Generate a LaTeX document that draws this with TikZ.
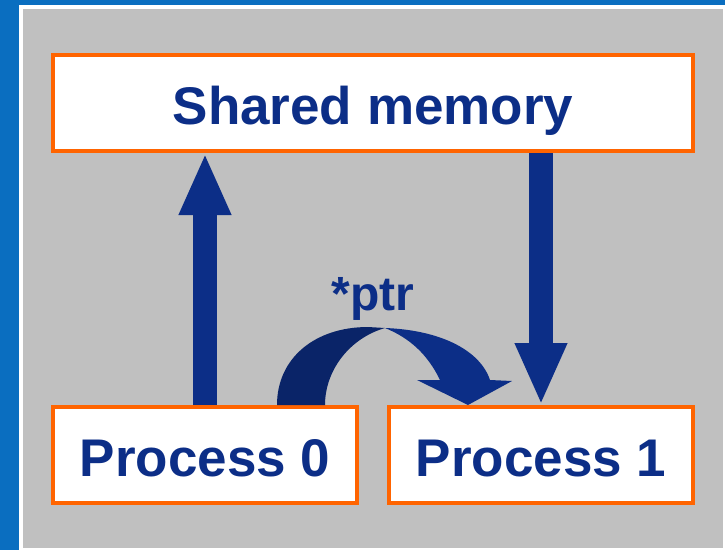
\documentclass[tikz,border=0pt]{standalone}
\usepackage{fontspec}
\setmainfont{Liberation Sans}
\usetikzlibrary{arrows.meta}
\definecolor{slideblue}{RGB}{10,110,192}
\definecolor{panelgrey}{RGB}{192,192,192}
\definecolor{boxorange}{RGB}{255,100,0}
\definecolor{navy}{RGB}{12,46,135}
\definecolor{navydark}{RGB}{10,36,104}
\begin{document}
\begin{tikzpicture}[x=1pt,y=-1pt, line join=miter,
    membox/.style={draw=boxorange, line width=4pt, fill=white, inner sep=0pt,
      minimum height=96pt, text height=42pt, text depth=0pt,
      text=navy, font=\fontsize{53}{60}\selectfont\bfseries},
    blockarrow/.style={draw=navy, line width=24pt, -{Triangle[width=48pt,length=62pt]}}]
    \useasboundingbox (0,0) rectangle (725,550);
    % slide background
    \fill[white] (0,0) rectangle (725,550);
    \fill[slideblue] (0,0) rectangle (19,550);
    \fill[slideblue] (0,0) rectangle (725,5);
    \fill[panelgrey] (23,9) rectangle (723,548);
    % boxes
    \node[membox, minimum width=640pt] (shared) at (373,103) {Shared memory};
    \node[membox, minimum width=304pt] (proc0) at (205,455) {Process 0};
    \node[membox, minimum width=304pt] (proc1) at (541,455) {Process 1};
    % straight arrows
    \draw[blockarrow] (proc0.north) -- (proc0.north |- shared.south);
    \draw[blockarrow] (proc1.north |- shared.south) -- (proc1.north);
    % curved arrow from process 0 to process 1
    \fill[navydark] (277,405) .. controls (277,358) and (315,327) .. (368,327) -- (385,328)
        .. controls (350,338) and (325,370) .. (325,405) -- cycle;
    \fill[navy] (385,328) .. controls (440,330) and (480,350) .. (490,380) -- (512,381)
        -- (468,405) -- (417,380) -- (440,380) .. controls (428,355) and (410,338) .. (385,328) -- cycle;
    \node[anchor=base, text=navy, font=\fontsize{48}{54}\selectfont\bfseries] (ptrlabel) at (373,310) {*ptr};
\end{tikzpicture}
\end{document}
